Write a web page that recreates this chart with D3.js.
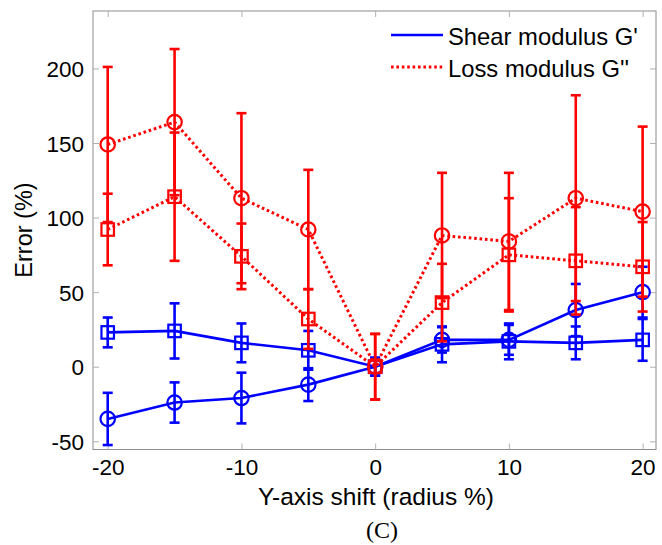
<!DOCTYPE html>
<html>
<head>
<meta charset="utf-8">
<script src="https://cdn.jsdelivr.net/npm/d3@7/dist/d3.min.js"></script>
<style>
  html, body { margin: 0; padding: 0; background: #fff; }
  svg { display: block; }
  text { font-family: "Liberation Sans", Arial, Helvetica, sans-serif; fill: #000; }
</style>
</head>
<body>
<svg id="chart" width="662" height="545"></svg>
<script>
// ---- data ----
const xValues = [-20, -15, -10, -5, 0, 5, 10, 15, 20];
const shearCircle    = [-35, -24, -21, -12, 0, 18, 18, 38, 50];
const shearCircleErr = [17.5, 13.5, 17, 11, 6, 8.5, 10, 17.5, 17];
const shearSquare    = [23, 24, 16, 11, 0, 15, 17, 16, 18];
const shearSquareErr = [10, 18.5, 13, 13, 6, 12, 12, 11, 14];
const lossCircle     = [149, 164, 113, 92, 0, 88, 84, 113, 104];
const lossCircleErr  = [52, 49, 57, 40, 22, 42, 46, 69, 57];
const lossSquare     = [92, 114, 74, 32, 0, 43, 75, 71, 67];
const lossSquareErr  = [24, 43, 22, 20, 22, 26, 38, 36, 30];
const xTicks = [-20, -10, 0, 10, 20];
const yTicks = [-50, 0, 50, 100, 150, 200];
const legendLabels = ["Shear modulus G'", "Loss modulus G''"];
const xLabel = "Y-axis shift (radius %)";
const yLabel = "Error (%)";
const caption = "(C)";

// ---- layout ----
const pL = 93, pR = 656, pT = 11, pB = 449.5;
const svg = d3.select("#chart");
const x = d3.scaleLinear().domain([-21.1, 21]).range([pL, pR]);
const y = d3.scaleLinear().domain([-55.5, 238.5]).range([pB, pT]);

const blue = "#0000ff", red = "#ff0000";

// frame
svg.append("rect").attr("x", pL).attr("y", pT)
  .attr("width", pR - pL).attr("height", pB - pT)
  .attr("fill", "none").attr("stroke", "#8c8c8c").attr("stroke-width", 1);

// axes with inward ticks
const tickLen = 6;
const fmt = d => String(d);
const axB = d3.axisBottom(x).tickValues(xTicks).tickSizeInner(-tickLen).tickSizeOuter(0).tickPadding(10).tickFormat(fmt);
const axT = d3.axisTop(x).tickValues(xTicks).tickSizeInner(-tickLen).tickSizeOuter(0).tickFormat("");
const axL = d3.axisLeft(y).tickValues(yTicks).tickSizeInner(-tickLen).tickSizeOuter(0).tickPadding(10).tickFormat(fmt);
const axR = d3.axisRight(y).tickValues(yTicks).tickSizeInner(-tickLen).tickSizeOuter(0).tickFormat("");

function styleAxis(g) {
  g.select(".domain").remove();
  g.selectAll(".tick line").attr("stroke", "#b0b0b0").attr("stroke-width", 1);
  g.selectAll(".tick text").style("font-family", '"Liberation Sans", Arial, sans-serif')
    .style("font-size", "22.5px").attr("fill", "#000");
}
svg.append("g").attr("transform", `translate(0,${pB})`).call(axB).call(styleAxis)
  .selectAll(".tick text").attr("dy", null).attr("y", 25.5);
svg.append("g").attr("transform", `translate(0,${pT})`).call(axT).call(styleAxis);
svg.append("g").attr("transform", `translate(${pL},0)`).call(axL).call(styleAxis)
  .selectAll(".tick text").attr("x", -9).attr("dy", "0.36em");
svg.append("g").attr("transform", `translate(${pR},0)`).call(axR).call(styleAxis);

// labels
svg.append("text").attr("x", 376).attr("y", 505).attr("text-anchor", "middle")
  .style("font-size", "24.5px").text(xLabel);
svg.append("text").attr("transform", "translate(32,230) rotate(-90)").attr("text-anchor", "middle")
  .style("font-size", "23.5px").text(yLabel);
svg.append("text").attr("x", 382).attr("y", 538).attr("text-anchor", "middle")
  .style("font-family", '"Liberation Serif", "Times New Roman", serif')
  .style("font-size", "24px").text(caption);

// series drawing
const capHalf = 5;
function drawSeries(vals, errs, color, dashed, marker) {
  const g = svg.append("g");
  const pts = xValues.map((xv, i) => ({ x: xv, y: vals[i], e: errs[i] }));
  // error bars
  const eb = g.selectAll(".eb").data(pts).enter().append("g").attr("class", "eb")
    .attr("stroke", color).attr("stroke-width", 2.6).attr("fill", "none");
  eb.append("line").attr("x1", d => x(d.x)).attr("x2", d => x(d.x))
    .attr("y1", d => y(d.y - d.e)).attr("y2", d => y(d.y + d.e));
  eb.append("line").attr("x1", d => x(d.x) - capHalf).attr("x2", d => x(d.x) + capHalf)
    .attr("y1", d => y(d.y + d.e)).attr("y2", d => y(d.y + d.e));
  eb.append("line").attr("x1", d => x(d.x) - capHalf).attr("x2", d => x(d.x) + capHalf)
    .attr("y1", d => y(d.y - d.e)).attr("y2", d => y(d.y - d.e));
  // line
  const line = d3.line().x(d => x(d.x)).y(d => y(d.y));
  g.append("path").datum(pts).attr("d", line).attr("fill", "none")
    .attr("stroke", color).attr("stroke-width", dashed ? 3 : 2.6)
    .attr("stroke-dasharray", dashed ? "2.6,2.8" : null);
  // markers
  if (marker === "circle") {
    g.selectAll(".mk").data(pts).enter().append("circle")
      .attr("cx", d => x(d.x)).attr("cy", d => y(d.y)).attr("r", 7.2)
      .attr("fill", "none").attr("stroke", color).attr("stroke-width", 2.2);
  } else {
    const s = 12.5;
    g.selectAll(".mk").data(pts).enter().append("rect")
      .attr("x", d => x(d.x) - s / 2).attr("y", d => y(d.y) - s / 2)
      .attr("width", s).attr("height", s)
      .attr("fill", "none").attr("stroke", color).attr("stroke-width", 2.2);
  }
}
drawSeries(shearSquare, shearSquareErr, blue, false, "square");
drawSeries(shearCircle, shearCircleErr, blue, false, "circle");
drawSeries(lossSquare, lossSquareErr, red, true, "square");
drawSeries(lossCircle, lossCircleErr, red, true, "circle");

// legend
const leg = svg.append("g");
const legY = [35, 67];
const legColors = [blue, red];
legendLabels.forEach((lab, i) => {
  leg.append("line").attr("x1", 391).attr("x2", 443).attr("y1", legY[i]).attr("y2", legY[i])
    .attr("stroke", legColors[i]).attr("stroke-width", i === 0 ? 2.6 : 3)
    .attr("stroke-dasharray", i === 0 ? null : "2.6,2.8");
  leg.append("text").attr("x", 448).attr("y", legY[i] + 9.5)
    .style("font-size", "23.8px").text(lab);
});
</script>
</body>
</html>
